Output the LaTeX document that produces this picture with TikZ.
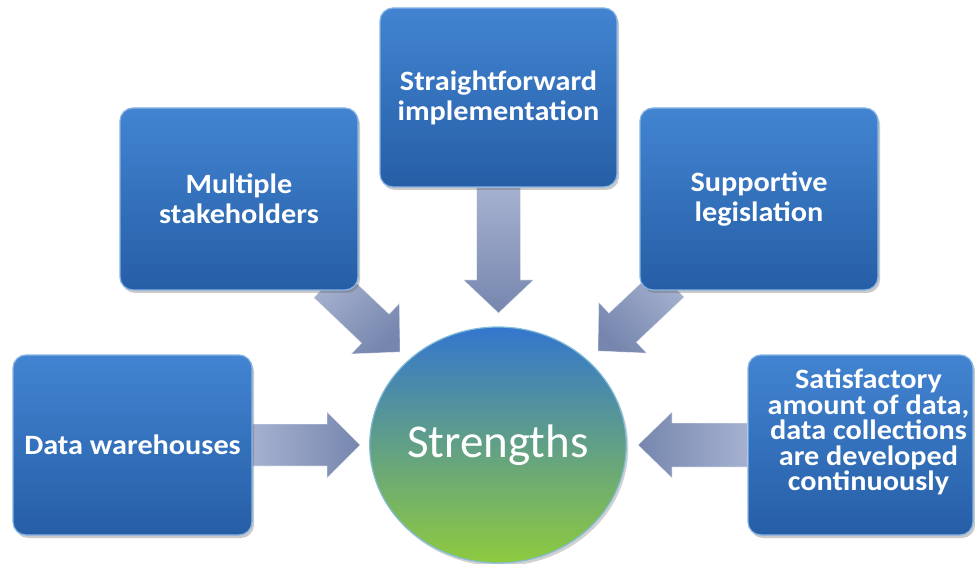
\documentclass[tikz,border=0pt]{standalone}
\usepackage{fontspec}
\setmainfont{Carlito}
\newfontfamily\boxfont[FakeStretch=1.08]{Carlito}
\usetikzlibrary{calc,shadows,backgrounds,shapes.geometric}
\definecolor{boxtop}{RGB}{66,132,209}
\definecolor{boxbot}{RGB}{38,94,166}
\definecolor{boxedge}{RGB}{135,180,228}
\definecolor{arrlight}{RGB}{166,177,207}
\definecolor{arrdark}{RGB}{118,134,174}
\definecolor{circtop}{RGB}{52,118,206}
\definecolor{circmid}{RGB}{72,148,165}
\definecolor{circbot}{RGB}{142,202,62}
% #1 start, #2 tip, #3 shaft half width, #4 head half width, #5 head length, #6 style
\newcommand\blockarrow[6]{%
  \coordinate (bah) at ($(#2)!#5!(#1)$);
  \path[#6] ($(#1)!#3!90:(#2)$) -- ($(bah)!#3!90:(#2)$) -- ($(bah)!#4!90:(#2)$)
    -- (#2) -- ($(bah)!#4!-90:(#2)$) -- ($(bah)!#3!-90:(#2)$) -- ($(#1)!#3!-90:(#2)$) -- cycle;
}
\begin{document}
\begin{tikzpicture}[x=1pt,y=-1pt,
  box/.style={rectangle, rounded corners=13pt, top color=boxtop, bottom color=boxbot,
    draw=boxedge, line width=1.2pt, text=white, align=center, inner sep=0pt,
    font=\boxfont\fontsize{28}{30}\selectfont\bfseries,
    drop shadow={shadow xshift=2pt, shadow yshift=-3pt, opacity=0.35, fill=black!60}},
  boxtext/.style={text=white, align=center, inner sep=0pt,
    font=\boxfont\fontsize{28}{25.5}\selectfont\bfseries},
  hub/.style={ellipse, top color=circtop, middle color=circmid, bottom color=circbot,
    draw=white!55!cyan!60!circmid, line width=1.2pt, text=white, inner sep=0pt,
    font=\fontsize{47}{50}\selectfont,
    drop shadow={shadow xshift=2pt, shadow yshift=-3pt, opacity=0.3, fill=black!60}},
  arr/.style={shade, draw=white, draw opacity=0.5, line width=0.7pt}]
\useasboundingbox (0,0) rectangle (975,564);
\node[box, minimum width=238pt, minimum height=182pt] (ms) at (239,199) {Multiple\\stakeholders};
\node[box, minimum width=237pt, minimum height=179pt] (sf) at (498.5,97.5) {Straightforward\\implementation};
\node[box, minimum width=238pt, minimum height=182pt] (sl) at (759,199) {Supportive\\legislation};
\node[box, minimum width=239pt, minimum height=180pt] (dw) at (132.5,445) {Data warehouses};
\node[box, minimum width=225pt, minimum height=180pt,
  label={[boxtext, xshift=8pt, yshift=13pt]center:{Satisfactory\\amount of data,\\data collections\\are developed\\continuously}}] (sat) at (860.5,445) {};
\node[hub, minimum width=250pt, minimum height=236pt] (hub) at (498,445) {Strengths};
\coordinate (tU) at (498.5,313);
\coordinate (tL) at (360,445);
\coordinate (tR) at (638,445);
\coordinate (tUL) at (400,352);
\coordinate (tUR) at (598,351);
\coordinate (sUL) at ($(ms.center)!0.55!(tUL)$);
\coordinate (sUR) at ($(sl.center)!0.55!(tUR)$);
\begin{scope}[on background layer]
\blockarrow{sf.south}{tU}{22pt}{35pt}{33pt}{arr, top color=arrlight, bottom color=arrdark}
\blockarrow{dw.east}{tL}{21pt}{33pt}{33pt}{arr, left color=arrlight, right color=arrdark}
\blockarrow{sat.west}{tR}{22pt}{33pt}{34pt}{arr, right color=arrlight, left color=arrdark}
\blockarrow{sUL}{tUL}{20pt}{35pt}{34pt}{arr, top color=arrlight, bottom color=arrdark, shading angle=45}
\blockarrow{sUR}{tUR}{20pt}{35pt}{34pt}{arr, top color=arrlight, bottom color=arrdark, shading angle=-45}
\end{scope}
\end{tikzpicture}
\end{document}
